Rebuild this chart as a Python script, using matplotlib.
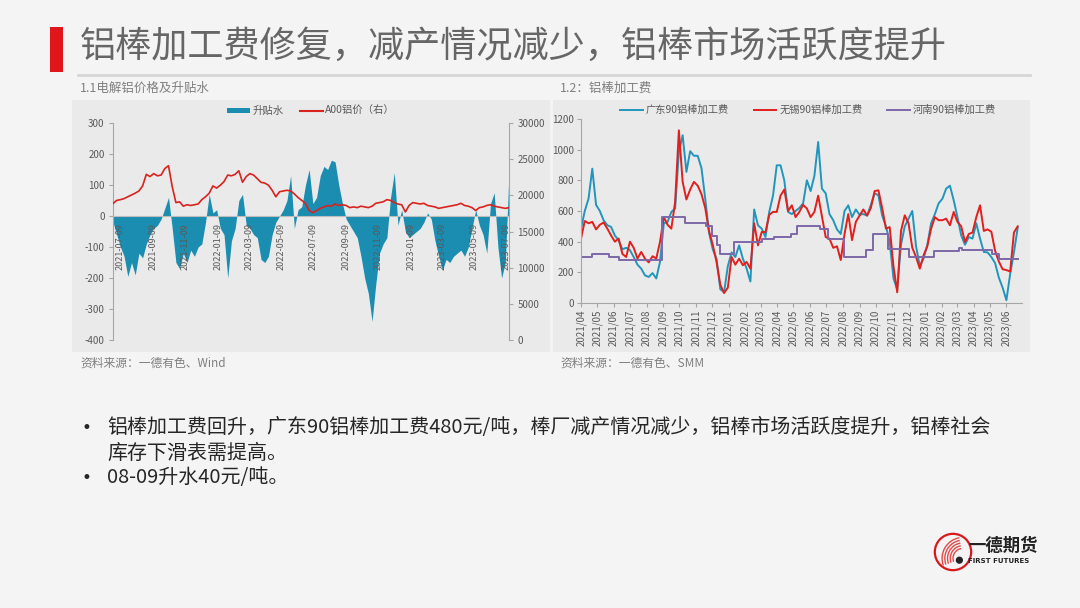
import matplotlib
matplotlib.use("Agg")
import matplotlib.pyplot as plt
import matplotlib.dates as mdates
import pandas as pd
from matplotlib.patches import Rectangle, Circle, Arc
from matplotlib.lines import Line2D

plt.rcParams['font.family'] = ['Noto Sans CJK SC', 'DejaVu Sans']
plt.rcParams['axes.unicode_minus'] = False

# ---------------- data ----------------
title = "铝棒加工费修复，减产情况减少，铝棒市场活跃度提升"
sub_left = "1.1电解铝价格及升贴水"
sub_right = "1.2：铝棒加工费"
src_left = "资料来源：一德有色、Wind"
src_right = "资料来源：一德有色、SMM"
bullet_lines = ["铝棒加工费回升，广东90铝棒加工费480元/吨，棒厂减产情况减少，铝棒市场活跃度提升，铝棒社会",
                "库存下滑表需提高。",
                "08-09升水40元/吨。"]

left_start = "2021-06-25"
premium = [-20, -60, -100, -130, -195, -150, -190, -120, -135, -90,
           -60, -40, -30, -10, 25, 60, -40, -150, -170, -120,
           -150, -110, -130, -100, -90, -20, 70, 10, 20, -40,
           -60, -200, -80, -40, 50, 70, -30, -40, -60, -70,
           -140, -150, -130, -60, -20, 0, 20, 50, 130, -40,
           20, 30, 100, 150, 40, 60, 130, 160, 150, 180,
           175, 100, 40, -10, -30, -50, -70, -130, -200, -250,
           -340, -220, -120, -90, -70, 60, 140, -30, 20, -50,
           -70, -60, -50, -40, -20, 10, -10, -80, -130, -175,
           -140, -150, -130, -120, -110, -130, -100, -40, 20, -30,
           -60, -120, 40, 75, -100, -200, -150, 140]
a00_price = [18860, 19300, 19400, 19550, 19800, 20050, 20300, 20600, 21300, 22900,
             22600, 23000, 22700, 22800, 23700, 24100, 21200, 19000, 19100, 18500,
             18700, 18600, 18700, 18800, 19400, 19800, 20300, 21300, 21000, 21400,
             21900, 22800, 22700, 22900, 23400, 21800, 22600, 23000, 22800, 22300,
             21800, 21700, 21400, 20700, 19800, 20500, 20600, 20700, 20600, 20200,
             19700, 19300, 18900, 17900, 17600, 17900, 18200, 18400, 18600, 18500,
             18800, 18600, 18700, 18600, 18300, 18400, 18300, 18500, 18400, 18300,
             18500, 18900, 19000, 19100, 19400, 19300, 19000, 18800, 18700, 17700,
             18600, 19000, 18900, 18800, 18900, 18600, 18500, 18400, 18200, 18300,
             18400, 18500, 18600, 18700, 18900, 18600, 18500, 18300, 17900, 18300,
             18400, 18600, 18700, 18500, 18400, 18300, 18200, 18300]
left_ticks = ["2021-07-09", "2021-09-09", "2021-11-09", "2022-01-09", "2022-03-09",
              "2022-05-09", "2022-07-09", "2022-09-09", "2022-11-09", "2023-01-09",
              "2023-03-09", "2023-05-09", "2023-07-09"]
left_legend = ["升贴水", "A00铝价（右）"]

right_start = "2021-04-01"
right_end = "2023-06-30"
gd_fee = [485, 600, 680, 876, 640, 600, 540, 507, 496, 440,
          410, 350, 360, 345, 300, 250, 224, 180, 170, 195,
          160, 270, 520, 529, 594, 616, 985, 1094, 855, 990,
          960, 960, 880, 680, 460, 350, 289, 90, 70, 240,
          330, 300, 376, 289, 224, 140, 610, 507, 485, 430,
          594, 700, 898, 898, 800, 594, 580, 600, 620, 650,
          800, 730, 830, 1050, 746, 715, 580, 540, 480, 450,
          600, 637, 560, 610, 575, 580, 570, 640, 715, 703,
          570, 500, 400, 160, 90, 380, 500, 550, 600, 370,
          240, 290, 380, 520, 580, 650, 680, 746, 765, 670,
          560, 440, 380, 430, 420, 520, 420, 333, 330, 300,
          260, 165, 100, 18, 190, 330, 490]
wx_fee = [420, 535, 520, 529, 480, 510, 525, 485, 440, 400,
          420, 320, 300, 400, 360, 290, 333, 289, 265, 305,
          290, 400, 560, 510, 485, 659, 1126, 790, 675, 740,
          790, 765, 710, 620, 470, 380, 268, 120, 65, 100,
          300, 250, 289, 246, 268, 224, 520, 376, 463, 463,
          575, 594, 594, 700, 740, 600, 637, 560, 594, 640,
          616, 560, 594, 700, 565, 430, 420, 360, 370, 280,
          450, 580, 410, 529, 570, 610, 570, 620, 730, 735,
          620, 485, 495, 240, 70, 470, 572, 520, 360, 300,
          224, 311, 370, 485, 560, 540, 540, 550, 507, 594,
          529, 500, 398, 450, 460, 560, 637, 470, 480, 465,
          340, 270, 220, 215, 205, 460, 500]
hn_dates = ['2021-04-01', '2021-04-21', '2021-05-23', '2021-06-10', '2021-08-30', '2021-10-12',
            '2021-11-20', '2021-12-01', '2021-12-10', '2021-12-15', '2022-01-10', '2022-03-03',
            '2022-03-25', '2022-04-26', '2022-05-08', '2022-06-19', '2022-07-04', '2022-08-03',
            '2022-09-13', '2022-09-26', '2022-10-24', '2022-12-01', '2023-01-18', '2023-03-04',
            '2023-03-10', '2023-05-05', '2023-05-19', '2023-06-22']
hn_fee = [300, 320, 300, 280, 560, 520, 500, 440, 380, 320, 400, 420, 430, 450,
          500, 485, 420, 300, 345, 450, 350, 300, 340, 360, 345, 320, 290, 285]
right_legend = ["广东90铝棒加工费", "无锡90铝棒加工费", "河南90铝棒加工费"]

# ---------------- colors ----------------
BG = '#f4f4f4'
PANEL = '#eaeaea'
TEAL_AREA = '#1b8db0'
TEAL = '#2196bd'
RED = '#e11f1c'
PURPLE = '#7e68a8'
GRAY_TXT = '#595959'
AX_GRAY = '#a6a6a6'

W, H = 1080, 608
fig = plt.figure(figsize=(10.8, 6.08), dpi=100, facecolor=BG)


def fx(x):
    return x / W


def fy(y):
    return 1 - y / H


# title decoration
fig.add_artist(Rectangle((fx(50), fy(72)), fx(13), 45 / H, transform=fig.transFigure,
                         facecolor='#e0161b', edgecolor='none', zorder=1))
fig.text(fx(80), fy(47), title, fontsize=26, color='#666666', va='center', ha='left',
         fontweight='light')
fig.add_artist(Line2D([fx(78), fx(1030)], [fy(75), fy(75)], transform=fig.transFigure,
                      color='#d6d6d6', lw=2))

# chart panels
fig.add_artist(Rectangle((fx(72), fy(352)), fx(478), 252 / H, transform=fig.transFigure,
                         facecolor=PANEL, edgecolor='none', zorder=-5))
fig.add_artist(Rectangle((fx(553), fy(352)), fx(477), 252 / H, transform=fig.transFigure,
                         facecolor=PANEL, edgecolor='none', zorder=-5))

fig.text(fx(80), fy(88), sub_left, fontsize=9, color='#7f7f7f', va='center')
fig.text(fx(560), fy(88), sub_right, fontsize=9, color='#7f7f7f', va='center')
fig.text(fx(80), fy(363), src_left, fontsize=8.5, color='#7f7f7f', va='center')
fig.text(fx(560), fy(363), src_right, fontsize=8.5, color='#7f7f7f', va='center')

# ---------------- left chart ----------------
ax1 = fig.add_axes([fx(113), fy(340), fx(396), 217 / H])
ax1.set_facecolor('none')
ld = pd.date_range(left_start, periods=len(premium), freq='7D')
ax1.fill_between(ld, 0, premium, color=TEAL_AREA, lw=0, zorder=1)
ax1.set_ylim(-400, 300)
ax1.set_yticks(range(-400, 301, 100))
ax1.set_xlim(pd.Timestamp(left_start), ld[-1])
ax1.set_xticks(pd.to_datetime(left_ticks))
ax1.xaxis.set_major_formatter(mdates.DateFormatter('%Y-%m-%d'))
for s in ['top', 'right']:
    ax1.spines[s].set_visible(False)
ax1.spines['bottom'].set_position(('data', 0))
ax1.spines['bottom'].set_color('#bdbdbd')
ax1.spines['bottom'].set_linewidth(0.8)
ax1.spines['left'].set_color(AX_GRAY)
ax1.tick_params(axis='x', length=0, pad=5, labelsize=6.5, labelcolor=GRAY_TXT, rotation=90)
ax1.tick_params(axis='y', length=3, width=0.8, color=AX_GRAY, labelsize=7, labelcolor=GRAY_TXT, pad=3)
for lab in ax1.get_xticklabels():
    lab.set_zorder(5)

ax2 = ax1.twinx()
ax2.set_facecolor('none')
ax2.plot(ld, a00_price, color='#d8231f', lw=1.2, zorder=3)
ax2.set_ylim(0, 30000)
ax2.set_yticks(range(0, 30001, 5000))
for s in ['top', 'left', 'bottom']:
    ax2.spines[s].set_visible(False)
ax2.spines['right'].set_color(AX_GRAY)
ax2.tick_params(axis='y', length=3, width=0.8, color=AX_GRAY, labelsize=7, labelcolor=GRAY_TXT, pad=3)

h1 = Rectangle((0, 0), 1, 1, facecolor=TEAL_AREA, edgecolor='none')
h2 = Line2D([], [], color='#d8231f', lw=1.5)
fig.legend([h1, h2], left_legend, loc='center', bbox_to_anchor=(fx(311), fy(111)), ncol=2,
           frameon=False, fontsize=7.5, handlelength=2.2, handleheight=0.45, columnspacing=1.6,
           handletextpad=0.2, labelcolor=GRAY_TXT)

# ---------------- right chart ----------------
ax3 = fig.add_axes([fx(581), fy(303), fx(441), 184 / H])
ax3.set_facecolor('none')
rd = pd.date_range(right_start, periods=len(gd_fee), freq='7D')
l1, = ax3.plot(rd, gd_fee, color=TEAL, lw=1.4)
l2, = ax3.plot(rd, wx_fee, color=RED, lw=1.4)
l3, = ax3.plot(pd.to_datetime(hn_dates), hn_fee, color=PURPLE, lw=1.4, drawstyle='steps-post')
ax3.set_ylim(0, 1200)
ax3.set_yticks(range(0, 1201, 200))
ax3.set_xlim(pd.Timestamp(right_start), pd.Timestamp(right_end))
ax3.xaxis.set_major_locator(mdates.MonthLocator())
ax3.xaxis.set_major_formatter(mdates.DateFormatter('%Y/%m'))
for s in ['top', 'right']:
    ax3.spines[s].set_visible(False)
ax3.spines['left'].set_color(AX_GRAY)
ax3.spines['bottom'].set_color(AX_GRAY)
ax3.tick_params(axis='x', length=3, width=0.8, color=AX_GRAY, labelsize=7, labelcolor=GRAY_TXT,
                rotation=90, pad=2)
ax3.tick_params(axis='y', length=3, width=0.8, color=AX_GRAY, labelsize=7, labelcolor=GRAY_TXT, pad=2)
fig.legend([l1, l2, l3], right_legend, loc='center', bbox_to_anchor=(fx(808), fy(110)), ncol=3,
           frameon=False, fontsize=7.4, handlelength=2.2, columnspacing=2.4, handletextpad=0.3,
           labelcolor=GRAY_TXT)

# ---------------- bullets ----------------
TXT = '#262626'
fig.text(fx(82), fy(428), "•", fontsize=12, color=TXT, va='center', family=['DejaVu Sans'])
fig.text(fx(107), fy(428), bullet_lines[0], fontsize=14.4, color=TXT, va='center')
fig.text(fx(107), fy(453), bullet_lines[1], fontsize=14.4, color=TXT, va='center')
fig.text(fx(82), fy(478), "•", fontsize=12, color=TXT, va='center', family=['DejaVu Sans'])
fig.text(fx(107), fy(478), bullet_lines[2], fontsize=14.4, color=TXT, va='center')

# ---------------- logo ----------------
lax = fig.add_axes([fx(933), fy(572), fx(40), 40 / H])
lax.set_xlim(-1.1, 1.1)
lax.set_ylim(-1.1, 1.1)
lax.set_aspect('equal')
lax.axis('off')
lax.add_patch(Circle((0, 0), 1.0, fill=False, edgecolor='#d7191c', lw=1.6))
for r in [0.55, 0.7, 0.85, 1.0, 1.15]:
    lax.add_patch(Arc((0.55, -0.35), 2 * r, 2 * r, theta1=100, theta2=200,
                      edgecolor='#e34a4a', lw=1.0))
lax.add_patch(Circle((0.35, -0.45), 0.16, color='#222222'))
fig.text(fx(968), fy(546), "一德期货", fontsize=12.5, fontweight='bold', color='#222222', va='center')
fig.text(fx(968), fy(561), "FIRST FUTURES", fontsize=5, fontweight='bold', color='#222222',
         va='center', family=['DejaVu Sans'])

fig.savefig('out.png', dpi=100, facecolor=BG)
